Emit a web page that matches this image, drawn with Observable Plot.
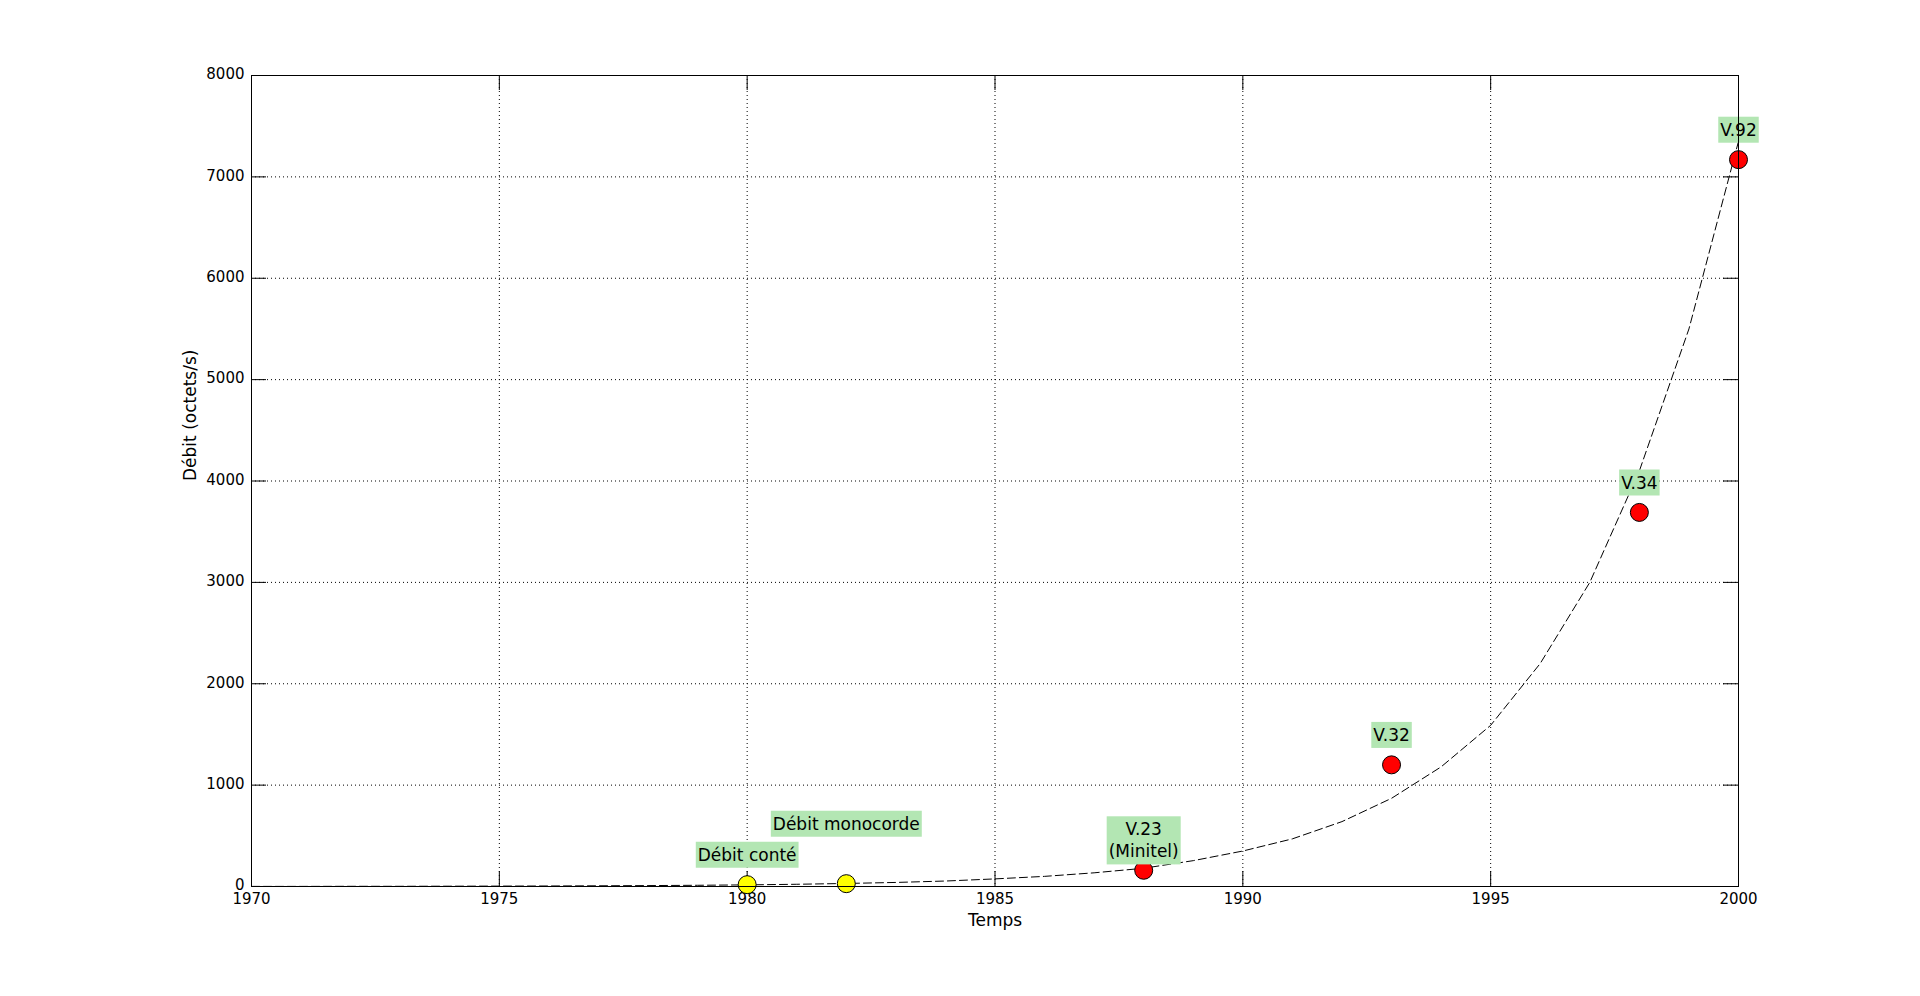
<!DOCTYPE html>
<html>
<head>
<meta charset="utf-8">
<script src="https://cdn.jsdelivr.net/npm/d3@7"></script>
<script src="https://cdn.jsdelivr.net/npm/@observablehq/plot@0.6"></script>
<style>
  html, body { margin: 0; padding: 0; background: #fff; overflow: hidden; }
  #chart svg { display: block; }
</style>
</head>
<body>
<div id="chart"></div>
<script>
// ---- Data ----
// Fitted (dashed) curve: year -> bytes/s
const fitYears = [1970, 1971, 1972, 1973, 1974, 1975, 1976, 1977, 1978, 1979,
                  1980, 1981, 1982, 1983, 1984, 1985, 1986, 1987, 1988, 1989,
                  1990, 1991, 1992, 1993, 1994, 1995, 1996, 1997, 1998, 1999, 2000];
const fitValues = [1, 1, 2, 2, 3, 4, 5, 7, 9, 12,
                   16, 22, 30, 40, 54, 75, 100, 135, 180, 255,
                   350, 470, 640, 870, 1180, 1590, 2200, 3000, 4100, 5500, 7350];

// Milestones
const msYears = [1980, 1982, 1988, 1993, 1998, 2000];
const msRates = [18, 28, 160, 1200, 3690, 7170];
const msNames = ["Débit conté", "Débit monocorde", "V.23\n(Minitel)", "V.32", "V.34", "V.92"];
const msKinds = ["voix", "voix", "modem", "modem", "modem", "modem"];

// Axis ticks
const xTicks = [1970, 1975, 1980, 1985, 1990, 1995, 2000];
const yTicks = [0, 1000, 2000, 3000, 4000, 5000, 6000, 7000, 8000];

// ---- Tables built from the arrays ----
const fit = fitYears.map((year, i) => ({year, value: fitValues[i]}));
const milestones = msYears.map((year, i) => ({year, rate: msRates[i], name: msNames[i], kind: msKinds[i]}));

// ---- Layout ----
const W = 1920, H = 996;
const mL = 251, mR = 182, mT = 75, mB = 110;
const plotW = W - mL - mR, plotH = H - mT - mB;
const tickLen = 15;
const grid = {stroke: "#000", strokeOpacity: 1, strokeWidth: 1, strokeDasharray: "1,3"};

const chart = Plot.plot({
  width: W,
  height: H,
  marginLeft: mL,
  marginRight: mR,
  marginTop: mT,
  marginBottom: mB,
  style: {fontFamily: "'DejaVu Sans', sans-serif", fontSize: "15px", background: "#fff", color: "#000"},
  x: {domain: [1970, 2000]},
  y: {domain: [0, 8000]},
  color: {domain: ["voix", "modem"], range: ["#ffff00", "#ff0000"]},
  marks: [
    Plot.gridX(xTicks, grid),
    Plot.gridY(yTicks, grid),
    // inner tick marks (bottom, top, left, right)
    Plot.ruleX(xTicks, {x: d => d, stroke: "#000", insetTop: plotH - tickLen}),
    Plot.ruleX(xTicks, {x: d => d, stroke: "#000", insetBottom: plotH - tickLen}),
    Plot.ruleY(yTicks, {y: d => d, stroke: "#000", insetRight: plotW - tickLen}),
    Plot.ruleY(yTicks, {y: d => d, stroke: "#000", insetLeft: plotW - tickLen}),
    Plot.axisX(xTicks, {tickSize: 0, tickPadding: 7, tickFormat: d => String(d), fontSize: 15, label: null}),
    Plot.axisY(yTicks, {tickSize: 0, tickPadding: 7, tickFormat: d => String(d), fontSize: 15, label: null, dy: -1}),
    // fitted curve
    Plot.line(fit, {x: "year", y: "value", stroke: "#000", strokeWidth: 1, strokeDasharray: "8,4"}),
    // milestones
    Plot.dot(milestones, {x: "year", y: "rate", fill: "kind", r: 9, stroke: "#000", strokeWidth: 1}),
    Plot.text(milestones.filter(d => d.name !== "Débit monocorde"), {
      x: "year", y: "rate", text: "name", dy: -31, fontSize: 17, lineHeight: 1.3,
      fill: "#000", className: "lbl"
    }),
    Plot.text(milestones.filter(d => d.name === "Débit monocorde"), {
      x: "year", y: "rate", text: "name", dy: -61, fontSize: 17, lineHeight: 1.3,
      fill: "#000", className: "lbl"
    }),
    // axis titles
    Plot.text(["Temps"], {text: d => d, frameAnchor: "bottom", dy: 39, fontSize: 17, fill: "#000"}),
    Plot.text(["Débit (octets/s)"], {text: d => d, frameAnchor: "left", rotate: -90, dx: -61, fontSize: 17, fill: "#000"}),
    Plot.frame({stroke: "#000", strokeWidth: 1})
  ]
});

document.getElementById("chart").append(chart);

// Green label backgrounds behind milestone texts
d3.select(chart).selectAll("g.lbl text").each(function () {
  const b = this.getBBox();
  const px = 2, py = 3;
  d3.select(this.parentNode)
    .insert("rect", () => this)
    .attr("transform", this.getAttribute("transform"))
    .attr("x", b.x - px)
    .attr("y", b.y - py)
    .attr("width", b.width + 2 * px)
    .attr("height", b.height + 2 * py)
    .attr("fill", "#b3e6b3");
});
</script>
</body>
</html>
